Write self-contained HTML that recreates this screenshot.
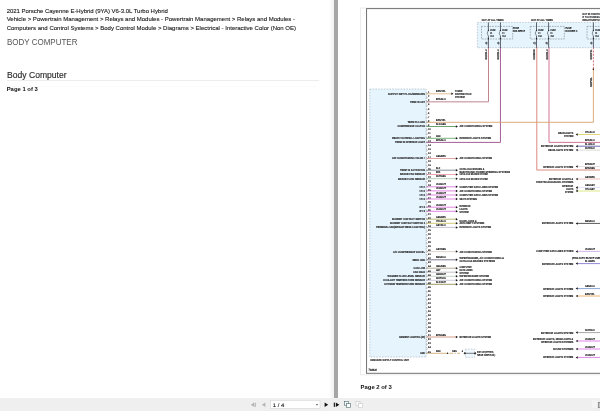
<!DOCTYPE html>
<html><head><meta charset="utf-8"><title>Body Computer</title>
<style>
html,body{margin:0;padding:0;}
body{width:600px;height:411px;overflow:hidden;background:#fff;position:relative;font-family:"Liberation Sans",sans-serif;}
.abs{position:absolute;white-space:nowrap;}
.t{opacity:0.999;}
#left{left:0;top:0;width:334px;height:398px;background:#fff;}
#shadow{left:329px;top:0;width:5px;height:398px;background:linear-gradient(to right,rgba(0,0,0,0),rgba(0,0,0,0.06));}
#gap{left:333.6px;top:0;width:4.1px;height:398px;background:#a6a6a6;}
#right{left:338px;top:0;width:262px;height:398px;background:#fff;}
#bar{left:0;top:397.5px;width:600px;height:13.5px;background:#efefef;}
.crumb{left:6.7px;font-size:6.0px;color:#1c1c1c;line-height:8.4px;-webkit-text-stroke:0.12px #1c1c1c;}
.h1{left:6.9px;top:37.1px;font-size:9.0px;color:#555;transform:scaleX(0.888);transform-origin:0 0;}
.h2{left:6.7px;top:70.0px;font-size:8.8px;color:#2b2b2b;-webkit-text-stroke:0.15px #2b2b2b;transform:scaleX(0.975);transform-origin:0 0;}
.rule{left:7px;top:80px;width:311.7px;height:1px;background:#eceeee;}
.rule2{left:7px;top:85.6px;width:310px;height:1px;background:#fafafa;}
.pg{font-size:5.9px;font-weight:bold;color:#111;}
svg text{font-family:"Liberation Sans",sans-serif;stroke:#1a1a1a;stroke-width:0.12px;text-rendering:geometricPrecision;}
</style></head><body>
<div id="left" class="abs"></div><div id="shadow" class="abs"></div><div id="gap" class="abs"></div><div id="right" class="abs"></div>
<div class="abs crumb t" style="top:6.8px;letter-spacing:-0.03px">2021 Porsche Cayenne E-Hybrid (9YA) V6-3.0L Turbo Hybrid</div>
<div class="abs crumb t" style="top:15.3px">Vehicle &gt; Powertrain Management &gt; Relays and Modules - Powertrain Management &gt; Relays and Modules -</div>
<div class="abs crumb t" style="top:23.9px">Computers and Control Systems &gt; Body Control Module &gt; Diagrams &gt; Electrical - Interactive Color (Non OE)</div>
<div class="abs h1 t">BODY COMPUTER</div>
<div class="abs h2 t">Body Computer</div>
<div class="abs rule"></div><div class="abs rule2"></div>
<div class="abs pg t" style="left:6.7px;top:85.6px">Page 1 of 3</div>
<div class="abs pg t" style="left:360.6px;top:384.2px">Page 2 of 3</div>
<svg class="abs" style="left:0;top:0" width="600" height="398" viewBox="0 0 600 398">
<defs><filter id="tb" x="-2%" y="-2%" width="104%" height="104%"><feGaussianBlur stdDeviation="0.18"/></filter><filter id="lb" x="-2%" y="-2%" width="104%" height="104%"><feGaussianBlur stdDeviation="0.12"/></filter></defs>
<rect x="360.5" y="8.0" width="245" height="366.8" fill="none" stroke="#ececec" stroke-width="1"/><rect x="366.55" y="8.6" width="240" height="364.7" fill="none" stroke="#727272" stroke-width="1"/>
<g filter="url(#lb)">
<rect x="477.4" y="22.4" width="130" height="25.3" fill="#e6f4fd" stroke="#8598a6" stroke-width="0.45" stroke-dasharray="1.6,1.2"/>
<rect x="481.5" y="26.4" width="31.200000000000045" height="12.6" fill="none" stroke="#5a6872" stroke-width="0.5" stroke-dasharray="1.6,1.1"/>
<rect x="530.3" y="26.4" width="34.0" height="12.6" fill="none" stroke="#5a6872" stroke-width="0.5" stroke-dasharray="1.6,1.1"/>
<rect x="587" y="26.4" width="23" height="12.6" fill="none" stroke="#5a6872" stroke-width="0.5" stroke-dasharray="1.6,1.1"/>
<rect x="369.8" y="89" width="56.3" height="268" fill="#e6f4fd" stroke="#8598a6" stroke-width="0.45" stroke-dasharray="1.6,1.2"/>
<path d="M426.5,101.85 H488.5 V47" stroke="#b87880" stroke-width="0.9" fill="none" />
<path d="M426.5,142.4 H500.45 V47" stroke="#9a4c8c" stroke-width="0.9" fill="none" />
<path d="M600,170 H536.8 V47" stroke="#d87c70" stroke-width="0.9" fill="none" />
<path d="M600,142.4 H549.0 V47" stroke="#cc6884" stroke-width="0.9" fill="none" />
<path d="M426.5,122.3 H593.4 V69" stroke="#d8a46c" stroke-width="0.9" fill="none" />
<line x1="593.40" y1="69.00" x2="593.40" y2="47.50" stroke="#d4606a" stroke-width="0.9" stroke-dasharray="2,1.3"/>
<line x1="488.40" y1="22.40" x2="488.40" y2="30.30" stroke="#3a3f4a" stroke-width="0.8" />
<line x1="488.40" y1="36.00" x2="488.40" y2="47.70" stroke="#3a3f4a" stroke-width="0.8" />
<path d="M488.4,30.3 q-2.4,2.9 0,5.8" stroke="#3a3f4a" stroke-width="0.6" fill="none" />
<line x1="500.45" y1="22.40" x2="500.45" y2="30.30" stroke="#3a3f4a" stroke-width="0.8" />
<line x1="500.45" y1="36.00" x2="500.45" y2="47.70" stroke="#3a3f4a" stroke-width="0.8" />
<path d="M500.45,30.3 q-2.4,2.9 0,5.8" stroke="#3a3f4a" stroke-width="0.6" fill="none" />
<line x1="536.50" y1="22.40" x2="536.50" y2="30.30" stroke="#3a3f4a" stroke-width="0.8" />
<line x1="536.50" y1="36.00" x2="536.50" y2="47.70" stroke="#3a3f4a" stroke-width="0.8" />
<path d="M536.5,30.3 q-2.4,2.9 0,5.8" stroke="#3a3f4a" stroke-width="0.6" fill="none" />
<line x1="548.60" y1="22.40" x2="548.60" y2="30.30" stroke="#3a3f4a" stroke-width="0.8" />
<line x1="548.60" y1="36.00" x2="548.60" y2="47.70" stroke="#3a3f4a" stroke-width="0.8" />
<path d="M548.6,30.3 q-2.4,2.9 0,5.8" stroke="#3a3f4a" stroke-width="0.6" fill="none" />
<line x1="593.40" y1="22.40" x2="593.40" y2="30.30" stroke="#3a3f4a" stroke-width="0.8" />
<line x1="593.40" y1="36.00" x2="593.40" y2="47.70" stroke="#3a3f4a" stroke-width="0.8" />
<path d="M593.4,30.3 q-2.4,2.9 0,5.8" stroke="#3a3f4a" stroke-width="0.6" fill="none" />
<line x1="426.50" y1="93.80" x2="451.80" y2="93.80" stroke="#dcae78" stroke-width="0.8" />
<line x1="426.50" y1="126.50" x2="456.40" y2="126.50" stroke="#4c8a50" stroke-width="0.8" />
<line x1="426.50" y1="138.30" x2="456.40" y2="138.30" stroke="#58a05c" stroke-width="0.8" />
<line x1="426.50" y1="158.50" x2="456.40" y2="158.50" stroke="#dc8c8c" stroke-width="0.8" />
<line x1="426.50" y1="170.20" x2="456.40" y2="170.20" stroke="#66767e" stroke-width="0.8" />
<line x1="426.50" y1="174.50" x2="456.40" y2="174.50" stroke="#e8929c" stroke-width="0.8" />
<line x1="426.50" y1="178.70" x2="456.40" y2="178.70" stroke="#a4c4ac" stroke-width="0.8" />
<line x1="426.50" y1="186.80" x2="456.40" y2="186.80" stroke="#d868d8" stroke-width="0.8" />
<line x1="426.50" y1="190.90" x2="456.40" y2="190.90" stroke="#d868d8" stroke-width="0.8" />
<line x1="426.50" y1="195.00" x2="456.40" y2="195.00" stroke="#d868d8" stroke-width="0.8" />
<line x1="426.50" y1="199.00" x2="456.40" y2="199.00" stroke="#d868d8" stroke-width="0.8" />
<line x1="426.50" y1="207.20" x2="456.40" y2="207.20" stroke="#d868d8" stroke-width="0.8" />
<line x1="426.50" y1="211.30" x2="456.40" y2="211.30" stroke="#d868d8" stroke-width="0.8" />
<line x1="426.50" y1="219.20" x2="456.40" y2="219.20" stroke="#a8a456" stroke-width="0.8" />
<line x1="426.50" y1="223.30" x2="456.40" y2="223.30" stroke="#c8bc54" stroke-width="0.8" />
<line x1="426.50" y1="227.40" x2="456.40" y2="227.40" stroke="#b8b4c8" stroke-width="0.8" />
<line x1="426.50" y1="251.60" x2="456.40" y2="251.60" stroke="#d2ccc4" stroke-width="0.8" />
<line x1="426.50" y1="259.80" x2="456.40" y2="259.80" stroke="#5a5a74" stroke-width="0.8" />
<line x1="426.50" y1="268.20" x2="456.40" y2="268.20" stroke="#a09a80" stroke-width="0.8" />
<line x1="426.50" y1="272.20" x2="456.40" y2="272.20" stroke="#b4b4b4" stroke-width="0.8" />
<line x1="426.50" y1="276.30" x2="456.40" y2="276.30" stroke="#bcc6be" stroke-width="0.8" />
<line x1="426.50" y1="280.30" x2="456.40" y2="280.30" stroke="#c4bcd0" stroke-width="0.8" />
<line x1="426.50" y1="284.30" x2="456.40" y2="284.30" stroke="#868644" stroke-width="0.8" />
<line x1="426.50" y1="337.00" x2="456.40" y2="337.00" stroke="#cc8068" stroke-width="0.8" />
<line x1="426.50" y1="353.30" x2="447.40" y2="353.30" stroke="#c8a468" stroke-width="0.8" />
<line x1="449.60" y1="353.30" x2="460.00" y2="353.30" stroke="#c8a468" stroke-width="0.8" stroke-dasharray="3.6,1.3,1.4,1.3"/>
<rect x="465.3" y="349" width="9.4" height="8.4" fill="#eef8fe" stroke="#8598a6" stroke-width="0.4" stroke-dasharray="1.6,1.2"/>
<line x1="465.50" y1="353.30" x2="475.00" y2="353.30" stroke="#39404c" stroke-width="0.7" />
<path d="M463.6,353.3 l1.25,-1.25 l1.25,1.25 l-1.25,1.25z" fill="#222"/>
<path d="M473.9,353.3 l1.25,-1.25 l1.25,1.25 l-1.25,1.25z" fill="#222"/>
<path d="M426.4,92.30 q1.5,1.1 0.2,2.3" stroke="#4a5560" stroke-width="0.45" fill="none" />
<path d="M426.4,96.35 q1.5,1.1 0.2,2.3" stroke="#4a5560" stroke-width="0.45" fill="none" />
<path d="M426.4,100.40 q1.5,1.1 0.2,2.3" stroke="#4a5560" stroke-width="0.45" fill="none" />
<path d="M426.4,104.45 q1.5,1.1 0.2,2.3" stroke="#4a5560" stroke-width="0.45" fill="none" />
<path d="M426.4,108.50 q1.5,1.1 0.2,2.3" stroke="#4a5560" stroke-width="0.45" fill="none" />
<path d="M426.4,112.55 q1.5,1.1 0.2,2.3" stroke="#4a5560" stroke-width="0.45" fill="none" />
<path d="M426.4,116.60 q1.5,1.1 0.2,2.3" stroke="#4a5560" stroke-width="0.45" fill="none" />
<path d="M426.4,120.65 q1.5,1.1 0.2,2.3" stroke="#4a5560" stroke-width="0.45" fill="none" />
<path d="M426.4,124.70 q1.5,1.1 0.2,2.3" stroke="#4a5560" stroke-width="0.45" fill="none" />
<path d="M426.4,128.75 q1.5,1.1 0.2,2.3" stroke="#4a5560" stroke-width="0.45" fill="none" />
<path d="M426.4,132.80 q1.5,1.1 0.2,2.3" stroke="#4a5560" stroke-width="0.45" fill="none" />
<path d="M426.4,136.85 q1.5,1.1 0.2,2.3" stroke="#4a5560" stroke-width="0.45" fill="none" />
<path d="M426.4,140.90 q1.5,1.1 0.2,2.3" stroke="#4a5560" stroke-width="0.45" fill="none" />
<path d="M426.4,144.95 q1.5,1.1 0.2,2.3" stroke="#4a5560" stroke-width="0.45" fill="none" />
<path d="M426.4,149.00 q1.5,1.1 0.2,2.3" stroke="#4a5560" stroke-width="0.45" fill="none" />
<path d="M426.4,153.05 q1.5,1.1 0.2,2.3" stroke="#4a5560" stroke-width="0.45" fill="none" />
<path d="M426.4,157.10 q1.5,1.1 0.2,2.3" stroke="#4a5560" stroke-width="0.45" fill="none" />
<path d="M426.4,161.15 q1.5,1.1 0.2,2.3" stroke="#4a5560" stroke-width="0.45" fill="none" />
<path d="M426.4,165.20 q1.5,1.1 0.2,2.3" stroke="#4a5560" stroke-width="0.45" fill="none" />
<path d="M426.4,169.25 q1.5,1.1 0.2,2.3" stroke="#4a5560" stroke-width="0.45" fill="none" />
<path d="M426.4,173.30 q1.5,1.1 0.2,2.3" stroke="#4a5560" stroke-width="0.45" fill="none" />
<path d="M426.4,177.35 q1.5,1.1 0.2,2.3" stroke="#4a5560" stroke-width="0.45" fill="none" />
<path d="M426.4,181.40 q1.5,1.1 0.2,2.3" stroke="#4a5560" stroke-width="0.45" fill="none" />
<path d="M426.4,185.45 q1.5,1.1 0.2,2.3" stroke="#4a5560" stroke-width="0.45" fill="none" />
<path d="M426.4,189.50 q1.5,1.1 0.2,2.3" stroke="#4a5560" stroke-width="0.45" fill="none" />
<path d="M426.4,193.55 q1.5,1.1 0.2,2.3" stroke="#4a5560" stroke-width="0.45" fill="none" />
<path d="M426.4,197.60 q1.5,1.1 0.2,2.3" stroke="#4a5560" stroke-width="0.45" fill="none" />
<path d="M426.4,201.65 q1.5,1.1 0.2,2.3" stroke="#4a5560" stroke-width="0.45" fill="none" />
<path d="M426.4,205.70 q1.5,1.1 0.2,2.3" stroke="#4a5560" stroke-width="0.45" fill="none" />
<path d="M426.4,209.75 q1.5,1.1 0.2,2.3" stroke="#4a5560" stroke-width="0.45" fill="none" />
<path d="M426.4,213.80 q1.5,1.1 0.2,2.3" stroke="#4a5560" stroke-width="0.45" fill="none" />
<path d="M426.4,217.85 q1.5,1.1 0.2,2.3" stroke="#4a5560" stroke-width="0.45" fill="none" />
<path d="M426.4,221.90 q1.5,1.1 0.2,2.3" stroke="#4a5560" stroke-width="0.45" fill="none" />
<path d="M426.4,225.95 q1.5,1.1 0.2,2.3" stroke="#4a5560" stroke-width="0.45" fill="none" />
<path d="M426.4,230.00 q1.5,1.1 0.2,2.3" stroke="#4a5560" stroke-width="0.45" fill="none" />
<path d="M426.4,234.05 q1.5,1.1 0.2,2.3" stroke="#4a5560" stroke-width="0.45" fill="none" />
<path d="M426.4,238.10 q1.5,1.1 0.2,2.3" stroke="#4a5560" stroke-width="0.45" fill="none" />
<path d="M426.4,242.15 q1.5,1.1 0.2,2.3" stroke="#4a5560" stroke-width="0.45" fill="none" />
<path d="M426.4,246.20 q1.5,1.1 0.2,2.3" stroke="#4a5560" stroke-width="0.45" fill="none" />
<path d="M426.4,250.25 q1.5,1.1 0.2,2.3" stroke="#4a5560" stroke-width="0.45" fill="none" />
<path d="M426.4,254.30 q1.5,1.1 0.2,2.3" stroke="#4a5560" stroke-width="0.45" fill="none" />
<path d="M426.4,258.35 q1.5,1.1 0.2,2.3" stroke="#4a5560" stroke-width="0.45" fill="none" />
<path d="M426.4,262.40 q1.5,1.1 0.2,2.3" stroke="#4a5560" stroke-width="0.45" fill="none" />
<path d="M426.4,266.45 q1.5,1.1 0.2,2.3" stroke="#4a5560" stroke-width="0.45" fill="none" />
<path d="M426.4,270.50 q1.5,1.1 0.2,2.3" stroke="#4a5560" stroke-width="0.45" fill="none" />
<path d="M426.4,274.55 q1.5,1.1 0.2,2.3" stroke="#4a5560" stroke-width="0.45" fill="none" />
<path d="M426.4,278.60 q1.5,1.1 0.2,2.3" stroke="#4a5560" stroke-width="0.45" fill="none" />
<path d="M426.4,282.65 q1.5,1.1 0.2,2.3" stroke="#4a5560" stroke-width="0.45" fill="none" />
<path d="M426.4,286.70 q1.5,1.1 0.2,2.3" stroke="#4a5560" stroke-width="0.45" fill="none" />
<path d="M426.4,290.75 q1.5,1.1 0.2,2.3" stroke="#4a5560" stroke-width="0.45" fill="none" />
<path d="M426.4,294.80 q1.5,1.1 0.2,2.3" stroke="#4a5560" stroke-width="0.45" fill="none" />
<path d="M426.4,298.85 q1.5,1.1 0.2,2.3" stroke="#4a5560" stroke-width="0.45" fill="none" />
<path d="M426.4,302.90 q1.5,1.1 0.2,2.3" stroke="#4a5560" stroke-width="0.45" fill="none" />
<path d="M426.4,306.95 q1.5,1.1 0.2,2.3" stroke="#4a5560" stroke-width="0.45" fill="none" />
<path d="M426.4,311.00 q1.5,1.1 0.2,2.3" stroke="#4a5560" stroke-width="0.45" fill="none" />
<path d="M426.4,315.05 q1.5,1.1 0.2,2.3" stroke="#4a5560" stroke-width="0.45" fill="none" />
<path d="M426.4,319.10 q1.5,1.1 0.2,2.3" stroke="#4a5560" stroke-width="0.45" fill="none" />
<path d="M426.4,323.15 q1.5,1.1 0.2,2.3" stroke="#4a5560" stroke-width="0.45" fill="none" />
<path d="M426.4,327.20 q1.5,1.1 0.2,2.3" stroke="#4a5560" stroke-width="0.45" fill="none" />
<path d="M426.4,331.25 q1.5,1.1 0.2,2.3" stroke="#4a5560" stroke-width="0.45" fill="none" />
<path d="M426.4,335.30 q1.5,1.1 0.2,2.3" stroke="#4a5560" stroke-width="0.45" fill="none" />
<path d="M426.4,339.35 q1.5,1.1 0.2,2.3" stroke="#4a5560" stroke-width="0.45" fill="none" />
<path d="M426.4,343.40 q1.5,1.1 0.2,2.3" stroke="#4a5560" stroke-width="0.45" fill="none" />
<path d="M426.4,347.45 q1.5,1.1 0.2,2.3" stroke="#4a5560" stroke-width="0.45" fill="none" />
<path d="M426.4,351.50 q1.5,1.1 0.2,2.3" stroke="#4a5560" stroke-width="0.45" fill="none" />
<line x1="577.20" y1="134.50" x2="600.00" y2="134.50" stroke="#d8cc58" stroke-width="0.8" />
<line x1="577.20" y1="146.20" x2="600.00" y2="146.20" stroke="#4848a0" stroke-width="0.8" />
<line x1="577.20" y1="150.10" x2="600.00" y2="150.10" stroke="#cfcfc8" stroke-width="0.8" />
<line x1="577.20" y1="166.60" x2="600.00" y2="166.60" stroke="#dccfcf" stroke-width="0.8" />
<line x1="577.20" y1="179.00" x2="600.00" y2="179.00" stroke="#e8b0b0" stroke-width="0.8" />
<line x1="577.20" y1="187.40" x2="600.00" y2="187.40" stroke="#d4d8ee" stroke-width="0.8" />
<line x1="577.20" y1="191.00" x2="600.00" y2="191.00" stroke="#d6e26c" stroke-width="0.8" />
<line x1="577.20" y1="223.40" x2="600.00" y2="223.40" stroke="#303030" stroke-width="0.8" />
<line x1="577.20" y1="251.40" x2="600.00" y2="251.40" stroke="#cca2de" stroke-width="0.8" />
<line x1="577.20" y1="263.60" x2="600.00" y2="263.60" stroke="#7468cc" stroke-width="0.8" />
<line x1="577.20" y1="288.60" x2="600.00" y2="288.60" stroke="#708cc8" stroke-width="0.8" />
<line x1="577.20" y1="296.00" x2="600.00" y2="296.00" stroke="#e6a050" stroke-width="0.8" />
<line x1="577.20" y1="332.60" x2="600.00" y2="332.60" stroke="#909090" stroke-width="0.8" />
<line x1="577.20" y1="341.00" x2="600.00" y2="341.00" stroke="#d468de" stroke-width="0.8" />
<line x1="577.20" y1="349.00" x2="600.00" y2="349.00" stroke="#d468de" stroke-width="0.8" />
<line x1="577.20" y1="357.40" x2="600.00" y2="357.40" stroke="#d468de" stroke-width="0.8" />
<line x1="577.00" y1="187.10" x2="577.00" y2="191.30" stroke="#444" stroke-width="0.5" />
</g>
<g filter="url(#tb)"><circle cx="593.40" cy="69.20" r="0.75" fill="#1a1a1a"/>
<circle cx="488.40" cy="30.30" r="0.65" fill="#1a1a1a"/>
<circle cx="488.40" cy="38.70" r="0.65" fill="#1a1a1a"/>
<circle cx="500.45" cy="30.30" r="0.65" fill="#1a1a1a"/>
<circle cx="500.45" cy="38.70" r="0.65" fill="#1a1a1a"/>
<circle cx="536.50" cy="30.30" r="0.65" fill="#1a1a1a"/>
<circle cx="536.50" cy="38.70" r="0.65" fill="#1a1a1a"/>
<circle cx="548.60" cy="30.30" r="0.65" fill="#1a1a1a"/>
<circle cx="548.60" cy="38.70" r="0.65" fill="#1a1a1a"/>
<circle cx="593.40" cy="30.30" r="0.65" fill="#1a1a1a"/>
<circle cx="593.40" cy="38.70" r="0.65" fill="#1a1a1a"/>
<path d="M453.40,93.80 l-2.0,-1.25 v2.5 z" fill="#111"/>
<path d="M457.90,126.50 l-2.0,-1.25 v2.5 z" fill="#111"/>
<path d="M457.90,138.30 l-2.0,-1.25 v2.5 z" fill="#111"/>
<path d="M457.90,158.50 l-2.0,-1.25 v2.5 z" fill="#111"/>
<path d="M457.90,170.20 l-2.0,-1.25 v2.5 z" fill="#111"/>
<path d="M457.90,174.50 l-2.0,-1.25 v2.5 z" fill="#111"/>
<path d="M457.90,178.70 l-2.0,-1.25 v2.5 z" fill="#111"/>
<path d="M457.90,186.80 l-2.0,-1.25 v2.5 z" fill="#111"/>
<path d="M457.90,190.90 l-2.0,-1.25 v2.5 z" fill="#111"/>
<path d="M457.90,195.00 l-2.0,-1.25 v2.5 z" fill="#111"/>
<path d="M457.90,199.00 l-2.0,-1.25 v2.5 z" fill="#111"/>
<path d="M457.90,227.40 l-2.0,-1.25 v2.5 z" fill="#111"/>
<path d="M457.90,251.60 l-2.0,-1.25 v2.5 z" fill="#111"/>
<path d="M457.90,259.80 l-2.0,-1.25 v2.5 z" fill="#111"/>
<path d="M457.90,276.30 l-2.0,-1.25 v2.5 z" fill="#111"/>
<path d="M457.90,280.30 l-2.0,-1.25 v2.5 z" fill="#111"/>
<path d="M457.90,284.30 l-2.0,-1.25 v2.5 z" fill="#111"/>
<path d="M457.90,337.00 l-2.0,-1.25 v2.5 z" fill="#111"/>
<path d="M457.90,207.20 l-2.0,-1.25 v2.5 z" fill="#111"/>
<path d="M457.90,211.30 l-2.0,-1.25 v2.5 z" fill="#111"/>
<path d="M457.90,219.20 l-2.0,-1.25 v2.5 z" fill="#111"/>
<path d="M457.90,223.30 l-2.0,-1.25 v2.5 z" fill="#111"/>
<path d="M457.90,268.20 l-2.0,-1.25 v2.5 z" fill="#111"/>
<path d="M457.90,272.20 l-2.0,-1.25 v2.5 z" fill="#111"/>
<circle cx="447.60" cy="353.30" r="0.75" fill="#1a1a1a"/>
<path d="M575.70,134.50 l2.0,-1.25 v2.5 z" fill="#111"/>
<path d="M575.70,146.20 l2.0,-1.25 v2.5 z" fill="#111"/>
<path d="M575.70,150.10 l2.0,-1.25 v2.5 z" fill="#111"/>
<path d="M575.70,166.60 l2.0,-1.25 v2.5 z" fill="#111"/>
<path d="M575.70,179.00 l2.0,-1.25 v2.5 z" fill="#111"/>
<path d="M575.70,223.40 l2.0,-1.25 v2.5 z" fill="#111"/>
<path d="M575.70,251.40 l2.0,-1.25 v2.5 z" fill="#111"/>
<path d="M575.70,263.60 l2.0,-1.25 v2.5 z" fill="#111"/>
<path d="M575.70,288.60 l2.0,-1.25 v2.5 z" fill="#111"/>
<path d="M575.70,296.00 l2.0,-1.25 v2.5 z" fill="#111"/>
<path d="M575.70,332.60 l2.0,-1.25 v2.5 z" fill="#111"/>
<path d="M575.70,341.00 l2.0,-1.25 v2.5 z" fill="#111"/>
<path d="M575.70,349.00 l2.0,-1.25 v2.5 z" fill="#111"/>
<path d="M575.70,357.40 l2.0,-1.25 v2.5 z" fill="#111"/>
<path d="M575.70,187.40 l2.0,-1.25 v2.5 z" fill="#111"/>
<path d="M575.70,191.00 l2.0,-1.25 v2.5 z" fill="#111"/></g>
<g filter="url(#tb)" font-weight="bold">
<text transform="translate(490.20,31.20)" font-size="2.67" text-anchor="start" textLength="5.40" lengthAdjust="spacingAndGlyphs" fill="#1a1a1a">FUSE</text>
<text transform="translate(490.20,34.10)" font-size="2.67" text-anchor="start" textLength="2.20" lengthAdjust="spacingAndGlyphs" fill="#1a1a1a">F1</text>
<text transform="translate(490.20,36.90)" font-size="2.67" text-anchor="start" textLength="3.60" lengthAdjust="spacingAndGlyphs" fill="#1a1a1a">15A</text>
<text transform="translate(485.20,44.10)" font-size="2.90" text-anchor="start" textLength="2.20" lengthAdjust="spacingAndGlyphs" fill="#1a1a1a">3)</text>
<text transform="translate(502.25,31.20)" font-size="2.67" text-anchor="start" textLength="5.40" lengthAdjust="spacingAndGlyphs" fill="#1a1a1a">FUSE</text>
<text transform="translate(502.25,34.10)" font-size="2.67" text-anchor="start" textLength="2.20" lengthAdjust="spacingAndGlyphs" fill="#1a1a1a">F1</text>
<text transform="translate(502.25,36.90)" font-size="2.67" text-anchor="start" textLength="3.60" lengthAdjust="spacingAndGlyphs" fill="#1a1a1a">15A</text>
<text transform="translate(497.25,44.10)" font-size="2.90" text-anchor="start" textLength="2.20" lengthAdjust="spacingAndGlyphs" fill="#1a1a1a">3)</text>
<text transform="translate(538.30,31.20)" font-size="2.67" text-anchor="start" textLength="5.40" lengthAdjust="spacingAndGlyphs" fill="#1a1a1a">FUSE</text>
<text transform="translate(538.30,34.10)" font-size="2.67" text-anchor="start" textLength="2.20" lengthAdjust="spacingAndGlyphs" fill="#1a1a1a">F1</text>
<text transform="translate(538.30,36.90)" font-size="2.67" text-anchor="start" textLength="3.60" lengthAdjust="spacingAndGlyphs" fill="#1a1a1a">15A</text>
<text transform="translate(533.30,44.10)" font-size="2.90" text-anchor="start" textLength="2.20" lengthAdjust="spacingAndGlyphs" fill="#1a1a1a">3)</text>
<text transform="translate(550.40,31.20)" font-size="2.67" text-anchor="start" textLength="5.40" lengthAdjust="spacingAndGlyphs" fill="#1a1a1a">FUSE</text>
<text transform="translate(550.40,34.10)" font-size="2.67" text-anchor="start" textLength="2.20" lengthAdjust="spacingAndGlyphs" fill="#1a1a1a">F1</text>
<text transform="translate(550.40,36.90)" font-size="2.67" text-anchor="start" textLength="3.60" lengthAdjust="spacingAndGlyphs" fill="#1a1a1a">15A</text>
<text transform="translate(545.40,44.10)" font-size="2.90" text-anchor="start" textLength="2.20" lengthAdjust="spacingAndGlyphs" fill="#1a1a1a">3)</text>
<text transform="translate(595.20,31.20)" font-size="2.67" text-anchor="start" textLength="5.40" lengthAdjust="spacingAndGlyphs" fill="#1a1a1a">FUSE</text>
<text transform="translate(595.20,34.10)" font-size="2.67" text-anchor="start" textLength="2.20" lengthAdjust="spacingAndGlyphs" fill="#1a1a1a">F1</text>
<text transform="translate(595.20,36.90)" font-size="2.67" text-anchor="start" textLength="3.60" lengthAdjust="spacingAndGlyphs" fill="#1a1a1a">15A</text>
<text transform="translate(590.20,44.10)" font-size="2.90" text-anchor="start" textLength="2.20" lengthAdjust="spacingAndGlyphs" fill="#1a1a1a">3)</text>
<text transform="translate(481.80,21.00)" font-size="2.90" text-anchor="start" textLength="21.70" lengthAdjust="spacingAndGlyphs" fill="#1a1a1a">HOT AT ALL TIMES</text>
<text transform="translate(531.20,21.00)" font-size="2.90" text-anchor="start" textLength="21.70" lengthAdjust="spacingAndGlyphs" fill="#1a1a1a">HOT AT ALL TIMES</text>
<text transform="translate(513.00,28.50)" font-size="2.78" text-anchor="start" textLength="6.00" lengthAdjust="spacingAndGlyphs" fill="#1a1a1a">FUSE</text>
<text transform="translate(513.00,31.50)" font-size="2.78" text-anchor="start" textLength="12.00" lengthAdjust="spacingAndGlyphs" fill="#1a1a1a">HOLDER E</text>
<text transform="translate(565.50,28.50)" font-size="2.78" text-anchor="start" textLength="6.00" lengthAdjust="spacingAndGlyphs" fill="#1a1a1a">FUSE</text>
<text transform="translate(565.50,31.50)" font-size="2.78" text-anchor="start" textLength="12.00" lengthAdjust="spacingAndGlyphs" fill="#1a1a1a">HOLDER C</text>
<text transform="translate(582.50,14.90)" font-size="2.90" text-anchor="start" textLength="20.00" lengthAdjust="spacingAndGlyphs" fill="#1a1a1a">HOT IN FUNCTION</text>
<text transform="translate(582.50,17.70)" font-size="2.90" text-anchor="start" textLength="22.00" lengthAdjust="spacingAndGlyphs" fill="#1a1a1a">R YOU FUSE BLOCK</text>
<text transform="translate(582.50,21.00)" font-size="2.90" text-anchor="start" textLength="21.00" lengthAdjust="spacingAndGlyphs" fill="#1a1a1a">RELAY/GRIPS INS</text>
<text transform="translate(486.90,59.40) rotate(-90)" font-size="2.67" text-anchor="start" textLength="10.00" lengthAdjust="spacingAndGlyphs" fill="#1a1a1a">RED/BLU</text>
<text transform="translate(498.95,59.40) rotate(-90)" font-size="2.67" text-anchor="start" textLength="10.00" lengthAdjust="spacingAndGlyphs" fill="#1a1a1a">RED/BLU</text>
<text transform="translate(535.30,59.40) rotate(-90)" font-size="2.67" text-anchor="start" textLength="10.00" lengthAdjust="spacingAndGlyphs" fill="#1a1a1a">RED/BRN</text>
<text transform="translate(547.50,59.40) rotate(-90)" font-size="2.67" text-anchor="start" textLength="10.00" lengthAdjust="spacingAndGlyphs" fill="#1a1a1a">RED/BLU</text>
<text transform="translate(591.90,59.40) rotate(-90)" font-size="2.67" text-anchor="start" textLength="10.00" lengthAdjust="spacingAndGlyphs" fill="#1a1a1a">RED/YEL</text>
<text transform="translate(591.90,87.00) rotate(-90)" font-size="2.67" text-anchor="start" textLength="10.00" lengthAdjust="spacingAndGlyphs" fill="#1a1a1a">RED/YEL</text>
<text transform="translate(425.00,94.70)" font-size="2.90" text-anchor="end" textLength="37.00" lengthAdjust="spacingAndGlyphs" fill="#1a1a1a">SUPPLY KEY PLUG/SENSORS</text>
<text transform="translate(436.00,92.30)" font-size="2.38" text-anchor="start" textLength="9.80" lengthAdjust="spacingAndGlyphs" fill="#1a1a1a">RED/YEL</text>
<text transform="translate(455.00,91.70)" font-size="2.90" text-anchor="start" textLength="7.30" lengthAdjust="spacingAndGlyphs" fill="#1a1a1a">POWER</text>
<text transform="translate(455.00,94.65)" font-size="2.90" text-anchor="start" textLength="16.30" lengthAdjust="spacingAndGlyphs" fill="#1a1a1a">DISTRIBUTION</text>
<text transform="translate(455.00,97.60)" font-size="2.90" text-anchor="start" textLength="9.60" lengthAdjust="spacingAndGlyphs" fill="#1a1a1a">SYSTEM</text>
<text transform="translate(425.00,102.60)" font-size="2.90" text-anchor="end" textLength="15.00" lengthAdjust="spacingAndGlyphs" fill="#1a1a1a">TERM 30 AKT</text>
<text transform="translate(436.00,100.20)" font-size="2.38" text-anchor="start" textLength="9.80" lengthAdjust="spacingAndGlyphs" fill="#1a1a1a">RED/BLU</text>
<text transform="translate(425.00,123.30)" font-size="2.90" text-anchor="end" textLength="17.60" lengthAdjust="spacingAndGlyphs" fill="#1a1a1a">TERM 15 LOAD</text>
<text transform="translate(436.00,120.90)" font-size="2.38" text-anchor="start" textLength="9.80" lengthAdjust="spacingAndGlyphs" fill="#1a1a1a">RED/YEL</text>
<text transform="translate(425.00,127.40)" font-size="2.90" text-anchor="end" textLength="27.60" lengthAdjust="spacingAndGlyphs" fill="#1a1a1a">COMPRESSOR CLUTCH</text>
<text transform="translate(436.00,125.00)" font-size="2.38" text-anchor="start" textLength="9.80" lengthAdjust="spacingAndGlyphs" fill="#1a1a1a">BLK/GRN</text>
<text transform="translate(459.40,127.40)" font-size="2.90" text-anchor="start" textLength="32.90" lengthAdjust="spacingAndGlyphs" fill="#1a1a1a">AIR CONDITIONING SYSTEM</text>
<text transform="translate(425.00,139.20)" font-size="2.90" text-anchor="end" textLength="33.00" lengthAdjust="spacingAndGlyphs" fill="#1a1a1a">REAR FOOTWELL LIGHTING</text>
<text transform="translate(436.00,136.80)" font-size="2.38" text-anchor="start" textLength="4.35" lengthAdjust="spacingAndGlyphs" fill="#1a1a1a">GRN</text>
<text transform="translate(459.40,139.20)" font-size="2.90" text-anchor="start" textLength="31.60" lengthAdjust="spacingAndGlyphs" fill="#1a1a1a">INTERIOR LIGHTS SYSTEM</text>
<text transform="translate(425.00,143.30)" font-size="2.90" text-anchor="end" textLength="30.00" lengthAdjust="spacingAndGlyphs" fill="#1a1a1a">TERM 30 INTERIOR LIGHT</text>
<text transform="translate(436.00,140.90)" font-size="2.38" text-anchor="start" textLength="9.80" lengthAdjust="spacingAndGlyphs" fill="#1a1a1a">RED/BLU</text>
<text transform="translate(425.00,159.40)" font-size="2.90" text-anchor="end" textLength="33.00" lengthAdjust="spacingAndGlyphs" fill="#1a1a1a">AIR CONDITIONING VALVE +</text>
<text transform="translate(436.00,157.00)" font-size="2.38" text-anchor="start" textLength="9.80" lengthAdjust="spacingAndGlyphs" fill="#1a1a1a">GRN/RED</text>
<text transform="translate(459.40,159.40)" font-size="2.90" text-anchor="start" textLength="32.60" lengthAdjust="spacingAndGlyphs" fill="#1a1a1a">AIR CONDITIONING SYSTEM</text>
<text transform="translate(425.00,171.10)" font-size="2.90" text-anchor="end" textLength="25.00" lengthAdjust="spacingAndGlyphs" fill="#1a1a1a">TERM 15 ACTIVATION</text>
<text transform="translate(436.00,168.70)" font-size="2.38" text-anchor="start" textLength="4.35" lengthAdjust="spacingAndGlyphs" fill="#1a1a1a">BLK</text>
<text transform="translate(459.40,169.60)" font-size="2.90" text-anchor="start" textLength="25.00" lengthAdjust="spacingAndGlyphs" fill="#1a1a1a">CATALOGS BRAKES &amp;</text>
<text transform="translate(459.40,172.60)" font-size="2.90" text-anchor="start" textLength="50.60" lengthAdjust="spacingAndGlyphs" fill="#1a1a1a">ELECTRONIC POWER STEERING SYSTEMS</text>
<text transform="translate(425.00,175.40)" font-size="2.90" text-anchor="end" textLength="25.00" lengthAdjust="spacingAndGlyphs" fill="#1a1a1a">BRAKE PAD SENSOR</text>
<text transform="translate(436.00,173.00)" font-size="2.38" text-anchor="start" textLength="4.35" lengthAdjust="spacingAndGlyphs" fill="#1a1a1a">RED</text>
<text transform="translate(459.40,175.40)" font-size="2.90" text-anchor="start" textLength="28.20" lengthAdjust="spacingAndGlyphs" fill="#1a1a1a">CATALOGS BRAKES SYSTEM</text>
<text transform="translate(425.00,179.60)" font-size="2.90" text-anchor="end" textLength="27.00" lengthAdjust="spacingAndGlyphs" fill="#1a1a1a">BRAKE FLUID SENSOR</text>
<text transform="translate(436.00,177.20)" font-size="2.38" text-anchor="start" textLength="9.80" lengthAdjust="spacingAndGlyphs" fill="#1a1a1a">WHT/GRN</text>
<text transform="translate(459.40,179.60)" font-size="2.90" text-anchor="start" textLength="28.20" lengthAdjust="spacingAndGlyphs" fill="#1a1a1a">CATALOGS BRAKES SYSTEM</text>
<text transform="translate(425.00,187.70)" font-size="2.90" text-anchor="end" textLength="5.40" lengthAdjust="spacingAndGlyphs" fill="#1a1a1a">UPC 1</text>
<text transform="translate(436.00,185.30)" font-size="2.38" text-anchor="start" textLength="9.80" lengthAdjust="spacingAndGlyphs" fill="#1a1a1a">VIO/WHT</text>
<text transform="translate(459.40,187.70)" font-size="2.90" text-anchor="start" textLength="38.60" lengthAdjust="spacingAndGlyphs" fill="#1a1a1a">COMPUTER DATA LINES SYSTEM</text>
<text transform="translate(425.00,191.80)" font-size="2.90" text-anchor="end" textLength="5.40" lengthAdjust="spacingAndGlyphs" fill="#1a1a1a">UPC 2</text>
<text transform="translate(436.00,189.40)" font-size="2.38" text-anchor="start" textLength="9.80" lengthAdjust="spacingAndGlyphs" fill="#1a1a1a">VIO/WHT</text>
<text transform="translate(459.40,191.80)" font-size="2.90" text-anchor="start" textLength="32.60" lengthAdjust="spacingAndGlyphs" fill="#1a1a1a">AIR CONDITIONING SYSTEM</text>
<text transform="translate(425.00,195.90)" font-size="2.90" text-anchor="end" textLength="5.40" lengthAdjust="spacingAndGlyphs" fill="#1a1a1a">UPC 3</text>
<text transform="translate(436.00,193.50)" font-size="2.38" text-anchor="start" textLength="9.80" lengthAdjust="spacingAndGlyphs" fill="#1a1a1a">VIO/WHT</text>
<text transform="translate(459.40,195.90)" font-size="2.90" text-anchor="start" textLength="38.60" lengthAdjust="spacingAndGlyphs" fill="#1a1a1a">COMPUTER DATA LINES SYSTEM</text>
<text transform="translate(425.00,199.90)" font-size="2.90" text-anchor="end" textLength="5.40" lengthAdjust="spacingAndGlyphs" fill="#1a1a1a">UPC 4</text>
<text transform="translate(436.00,197.50)" font-size="2.38" text-anchor="start" textLength="9.80" lengthAdjust="spacingAndGlyphs" fill="#1a1a1a">VIO/WHT</text>
<text transform="translate(459.40,199.90)" font-size="2.90" text-anchor="start" textLength="17.60" lengthAdjust="spacingAndGlyphs" fill="#1a1a1a">SEATS SYSTEMS</text>
<text transform="translate(425.00,208.10)" font-size="2.90" text-anchor="end" textLength="5.80" lengthAdjust="spacingAndGlyphs" fill="#1a1a1a">UPC 5</text>
<text transform="translate(436.00,205.70)" font-size="2.38" text-anchor="start" textLength="9.80" lengthAdjust="spacingAndGlyphs" fill="#1a1a1a">VIO/WHT</text>
<text transform="translate(425.00,212.20)" font-size="2.90" text-anchor="end" textLength="5.80" lengthAdjust="spacingAndGlyphs" fill="#1a1a1a">UPC 6</text>
<text transform="translate(436.00,209.80)" font-size="2.38" text-anchor="start" textLength="9.80" lengthAdjust="spacingAndGlyphs" fill="#1a1a1a">VIO/WHT</text>
<text transform="translate(425.00,220.10)" font-size="2.90" text-anchor="end" textLength="33.00" lengthAdjust="spacingAndGlyphs" fill="#1a1a1a">BONNET CONTACT SWITCH</text>
<text transform="translate(436.00,217.70)" font-size="2.38" text-anchor="start" textLength="9.80" lengthAdjust="spacingAndGlyphs" fill="#1a1a1a">GRN/RED</text>
<text transform="translate(425.00,224.20)" font-size="2.90" text-anchor="end" textLength="35.00" lengthAdjust="spacingAndGlyphs" fill="#1a1a1a">BONNET CONTACT SWITCH 2</text>
<text transform="translate(436.00,221.80)" font-size="2.38" text-anchor="start" textLength="9.80" lengthAdjust="spacingAndGlyphs" fill="#1a1a1a">YEL/BLU</text>
<text transform="translate(425.00,228.30)" font-size="2.90" text-anchor="end" textLength="49.00" lengthAdjust="spacingAndGlyphs" fill="#1a1a1a">TERMINAL 58D(BRIGHTNESS LIGHTING)</text>
<text transform="translate(436.00,225.90)" font-size="2.38" text-anchor="start" textLength="9.80" lengthAdjust="spacingAndGlyphs" fill="#1a1a1a">GRY/BLU</text>
<text transform="translate(459.40,228.30)" font-size="2.90" text-anchor="start" textLength="31.60" lengthAdjust="spacingAndGlyphs" fill="#1a1a1a">INTERIOR LIGHTS SYSTEM</text>
<text transform="translate(425.00,252.50)" font-size="2.90" text-anchor="end" textLength="32.00" lengthAdjust="spacingAndGlyphs" fill="#1a1a1a">A/C COMPRESSOR VALVE -</text>
<text transform="translate(436.00,250.10)" font-size="2.38" text-anchor="start" textLength="9.80" lengthAdjust="spacingAndGlyphs" fill="#1a1a1a">GRY/BRN</text>
<text transform="translate(459.40,252.50)" font-size="2.90" text-anchor="start" textLength="32.40" lengthAdjust="spacingAndGlyphs" fill="#1a1a1a">AIR CONDITIONING SYSTEM</text>
<text transform="translate(425.00,260.70)" font-size="2.90" text-anchor="end" textLength="12.60" lengthAdjust="spacingAndGlyphs" fill="#1a1a1a">SENS GND</text>
<text transform="translate(436.00,258.30)" font-size="2.38" text-anchor="start" textLength="9.80" lengthAdjust="spacingAndGlyphs" fill="#1a1a1a">BRN/BLU</text>
<text transform="translate(459.40,259.20)" font-size="2.90" text-anchor="start" textLength="44.60" lengthAdjust="spacingAndGlyphs" fill="#1a1a1a">WIPER/WASHER, A/C CONDITIONING &amp;</text>
<text transform="translate(459.40,262.20)" font-size="2.90" text-anchor="start" textLength="35.60" lengthAdjust="spacingAndGlyphs" fill="#1a1a1a">CATALOGS BRAKES SYSTEMS</text>
<text transform="translate(425.00,269.10)" font-size="2.90" text-anchor="end" textLength="11.40" lengthAdjust="spacingAndGlyphs" fill="#1a1a1a">CAN LOW</text>
<text transform="translate(436.00,266.70)" font-size="2.38" text-anchor="start" textLength="9.80" lengthAdjust="spacingAndGlyphs" fill="#1a1a1a">ORG/BRN</text>
<text transform="translate(425.00,273.10)" font-size="2.90" text-anchor="end" textLength="12.00" lengthAdjust="spacingAndGlyphs" fill="#1a1a1a">CAN HIGH</text>
<text transform="translate(436.00,270.70)" font-size="2.38" text-anchor="start" textLength="4.35" lengthAdjust="spacingAndGlyphs" fill="#1a1a1a">GRY</text>
<text transform="translate(425.00,277.20)" font-size="2.90" text-anchor="end" textLength="37.40" lengthAdjust="spacingAndGlyphs" fill="#1a1a1a">WASHER FLUID LEVEL SENSOR</text>
<text transform="translate(436.00,274.80)" font-size="2.38" text-anchor="start" textLength="9.80" lengthAdjust="spacingAndGlyphs" fill="#1a1a1a">GRN/WHT</text>
<text transform="translate(459.40,277.20)" font-size="2.90" text-anchor="start" textLength="29.60" lengthAdjust="spacingAndGlyphs" fill="#1a1a1a">WIPER/WASHER SYSTEM</text>
<text transform="translate(425.00,281.20)" font-size="2.90" text-anchor="end" textLength="42.00" lengthAdjust="spacingAndGlyphs" fill="#1a1a1a">COOLANT TEMPERATURE SENSOR</text>
<text transform="translate(436.00,278.80)" font-size="2.38" text-anchor="start" textLength="9.80" lengthAdjust="spacingAndGlyphs" fill="#1a1a1a">WHT/VIO</text>
<text transform="translate(459.40,281.20)" font-size="2.90" text-anchor="start" textLength="32.60" lengthAdjust="spacingAndGlyphs" fill="#1a1a1a">AIR CONDITIONING SYSTEM</text>
<text transform="translate(425.00,285.20)" font-size="2.90" text-anchor="end" textLength="41.00" lengthAdjust="spacingAndGlyphs" fill="#1a1a1a">OUTSIDE TEMPERATURE SENSOR</text>
<text transform="translate(436.00,282.80)" font-size="2.38" text-anchor="start" textLength="9.80" lengthAdjust="spacingAndGlyphs" fill="#1a1a1a">BLK/WHT</text>
<text transform="translate(459.40,285.20)" font-size="2.90" text-anchor="start" textLength="32.60" lengthAdjust="spacingAndGlyphs" fill="#1a1a1a">AIR CONDITIONING SYSTEM</text>
<text transform="translate(425.00,337.90)" font-size="2.90" text-anchor="end" textLength="26.00" lengthAdjust="spacingAndGlyphs" fill="#1a1a1a">AMBIENT LIGHTING (30)</text>
<text transform="translate(436.00,335.50)" font-size="2.38" text-anchor="start" textLength="9.80" lengthAdjust="spacingAndGlyphs" fill="#1a1a1a">RED/GRN</text>
<text transform="translate(459.40,337.90)" font-size="2.90" text-anchor="start" textLength="31.60" lengthAdjust="spacingAndGlyphs" fill="#1a1a1a">EXTERIOR LIGHTS SYSTEM</text>
<text transform="translate(425.00,354.20)" font-size="2.90" text-anchor="end" textLength="5.00" lengthAdjust="spacingAndGlyphs" fill="#1a1a1a">GND</text>
<text transform="translate(459.40,206.90)" font-size="2.90" text-anchor="start" textLength="11.10" lengthAdjust="spacingAndGlyphs" fill="#1a1a1a">INTERIOR</text>
<text transform="translate(459.40,210.00)" font-size="2.90" text-anchor="start" textLength="8.10" lengthAdjust="spacingAndGlyphs" fill="#1a1a1a">LIGHTS</text>
<text transform="translate(459.40,213.10)" font-size="2.90" text-anchor="start" textLength="9.10" lengthAdjust="spacingAndGlyphs" fill="#1a1a1a">SYSTEM</text>
<text transform="translate(459.40,221.50)" font-size="2.90" text-anchor="start" textLength="17.10" lengthAdjust="spacingAndGlyphs" fill="#1a1a1a">DOOR LOCKS &amp;</text>
<text transform="translate(459.40,224.40)" font-size="2.90" text-anchor="start" textLength="25.00" lengthAdjust="spacingAndGlyphs" fill="#1a1a1a">ANTI-THEFT SYSTEMS</text>
<text transform="translate(459.40,267.50)" font-size="2.90" text-anchor="start" textLength="12.10" lengthAdjust="spacingAndGlyphs" fill="#1a1a1a">COMPUTER</text>
<text transform="translate(459.40,270.70)" font-size="2.90" text-anchor="start" textLength="13.10" lengthAdjust="spacingAndGlyphs" fill="#1a1a1a">DATA LINES</text>
<text transform="translate(459.40,273.90)" font-size="2.90" text-anchor="start" textLength="9.10" lengthAdjust="spacingAndGlyphs" fill="#1a1a1a">SYSTEM</text>
<text transform="translate(436.00,351.50)" font-size="2.38" text-anchor="start" textLength="4.40" lengthAdjust="spacingAndGlyphs" fill="#1a1a1a">BRN</text>
<text transform="translate(452.30,351.50)" font-size="2.38" text-anchor="start" textLength="4.40" lengthAdjust="spacingAndGlyphs" fill="#1a1a1a">BRN</text>
<text transform="translate(461.80,351.80)" font-size="2.38" text-anchor="start" textLength="1.20" lengthAdjust="spacingAndGlyphs" fill="#1a1a1a">4</text>
<text transform="translate(477.30,352.90)" font-size="2.78" text-anchor="start" textLength="16.20" lengthAdjust="spacingAndGlyphs" fill="#1a1a1a">BODY GND (LEFT REAR,</text>
<text transform="translate(477.30,355.70)" font-size="2.78" text-anchor="start" textLength="18.00" lengthAdjust="spacingAndGlyphs" fill="#1a1a1a">NEAR SIDE RAIL)</text>
<text transform="translate(428.10,93.30)" font-size="2.55" text-anchor="start" textLength="1.30" lengthAdjust="spacingAndGlyphs" fill="#1a1a1a">1</text>
<text transform="translate(428.10,97.35)" font-size="2.55" text-anchor="start" textLength="1.30" lengthAdjust="spacingAndGlyphs" fill="#1a1a1a">2</text>
<text transform="translate(428.10,101.40)" font-size="2.55" text-anchor="start" textLength="1.30" lengthAdjust="spacingAndGlyphs" fill="#1a1a1a">3</text>
<text transform="translate(428.10,105.45)" font-size="2.55" text-anchor="start" textLength="1.30" lengthAdjust="spacingAndGlyphs" fill="#1a1a1a">4</text>
<text transform="translate(428.10,109.50)" font-size="2.55" text-anchor="start" textLength="1.30" lengthAdjust="spacingAndGlyphs" fill="#1a1a1a">5</text>
<text transform="translate(428.10,113.55)" font-size="2.55" text-anchor="start" textLength="1.30" lengthAdjust="spacingAndGlyphs" fill="#1a1a1a">6</text>
<text transform="translate(428.10,117.60)" font-size="2.55" text-anchor="start" textLength="1.30" lengthAdjust="spacingAndGlyphs" fill="#1a1a1a">7</text>
<text transform="translate(428.10,121.65)" font-size="2.55" text-anchor="start" textLength="1.30" lengthAdjust="spacingAndGlyphs" fill="#1a1a1a">8</text>
<text transform="translate(428.10,125.70)" font-size="2.55" text-anchor="start" textLength="1.30" lengthAdjust="spacingAndGlyphs" fill="#1a1a1a">9</text>
<text transform="translate(428.10,129.75)" font-size="2.55" text-anchor="start" textLength="2.60" lengthAdjust="spacingAndGlyphs" fill="#1a1a1a">10</text>
<text transform="translate(428.10,133.80)" font-size="2.55" text-anchor="start" textLength="2.60" lengthAdjust="spacingAndGlyphs" fill="#1a1a1a">11</text>
<text transform="translate(428.10,137.85)" font-size="2.55" text-anchor="start" textLength="2.60" lengthAdjust="spacingAndGlyphs" fill="#1a1a1a">12</text>
<text transform="translate(428.10,141.90)" font-size="2.55" text-anchor="start" textLength="2.60" lengthAdjust="spacingAndGlyphs" fill="#1a1a1a">13</text>
<text transform="translate(428.10,145.95)" font-size="2.55" text-anchor="start" textLength="2.60" lengthAdjust="spacingAndGlyphs" fill="#1a1a1a">14</text>
<text transform="translate(428.10,150.00)" font-size="2.55" text-anchor="start" textLength="2.60" lengthAdjust="spacingAndGlyphs" fill="#1a1a1a">15</text>
<text transform="translate(428.10,154.05)" font-size="2.55" text-anchor="start" textLength="2.60" lengthAdjust="spacingAndGlyphs" fill="#1a1a1a">16</text>
<text transform="translate(428.10,158.10)" font-size="2.55" text-anchor="start" textLength="2.60" lengthAdjust="spacingAndGlyphs" fill="#1a1a1a">17</text>
<text transform="translate(428.10,162.15)" font-size="2.55" text-anchor="start" textLength="2.60" lengthAdjust="spacingAndGlyphs" fill="#1a1a1a">18</text>
<text transform="translate(428.10,166.20)" font-size="2.55" text-anchor="start" textLength="2.60" lengthAdjust="spacingAndGlyphs" fill="#1a1a1a">19</text>
<text transform="translate(428.10,170.25)" font-size="2.55" text-anchor="start" textLength="2.60" lengthAdjust="spacingAndGlyphs" fill="#1a1a1a">20</text>
<text transform="translate(428.10,174.30)" font-size="2.55" text-anchor="start" textLength="2.60" lengthAdjust="spacingAndGlyphs" fill="#1a1a1a">21</text>
<text transform="translate(428.10,178.35)" font-size="2.55" text-anchor="start" textLength="2.60" lengthAdjust="spacingAndGlyphs" fill="#1a1a1a">22</text>
<text transform="translate(428.10,182.40)" font-size="2.55" text-anchor="start" textLength="2.60" lengthAdjust="spacingAndGlyphs" fill="#1a1a1a">23</text>
<text transform="translate(428.10,186.45)" font-size="2.55" text-anchor="start" textLength="2.60" lengthAdjust="spacingAndGlyphs" fill="#1a1a1a">24</text>
<text transform="translate(428.10,190.50)" font-size="2.55" text-anchor="start" textLength="2.60" lengthAdjust="spacingAndGlyphs" fill="#1a1a1a">25</text>
<text transform="translate(428.10,194.55)" font-size="2.55" text-anchor="start" textLength="2.60" lengthAdjust="spacingAndGlyphs" fill="#1a1a1a">26</text>
<text transform="translate(428.10,198.60)" font-size="2.55" text-anchor="start" textLength="2.60" lengthAdjust="spacingAndGlyphs" fill="#1a1a1a">27</text>
<text transform="translate(428.10,202.65)" font-size="2.55" text-anchor="start" textLength="2.60" lengthAdjust="spacingAndGlyphs" fill="#1a1a1a">28</text>
<text transform="translate(428.10,206.70)" font-size="2.55" text-anchor="start" textLength="2.60" lengthAdjust="spacingAndGlyphs" fill="#1a1a1a">29</text>
<text transform="translate(428.10,210.75)" font-size="2.55" text-anchor="start" textLength="2.60" lengthAdjust="spacingAndGlyphs" fill="#1a1a1a">30</text>
<text transform="translate(428.10,214.80)" font-size="2.55" text-anchor="start" textLength="2.60" lengthAdjust="spacingAndGlyphs" fill="#1a1a1a">31</text>
<text transform="translate(428.10,218.85)" font-size="2.55" text-anchor="start" textLength="2.60" lengthAdjust="spacingAndGlyphs" fill="#1a1a1a">32</text>
<text transform="translate(428.10,222.90)" font-size="2.55" text-anchor="start" textLength="2.60" lengthAdjust="spacingAndGlyphs" fill="#1a1a1a">33</text>
<text transform="translate(428.10,226.95)" font-size="2.55" text-anchor="start" textLength="2.60" lengthAdjust="spacingAndGlyphs" fill="#1a1a1a">34</text>
<text transform="translate(428.10,231.00)" font-size="2.55" text-anchor="start" textLength="2.60" lengthAdjust="spacingAndGlyphs" fill="#1a1a1a">35</text>
<text transform="translate(428.10,235.05)" font-size="2.55" text-anchor="start" textLength="2.60" lengthAdjust="spacingAndGlyphs" fill="#1a1a1a">36</text>
<text transform="translate(428.10,239.10)" font-size="2.55" text-anchor="start" textLength="2.60" lengthAdjust="spacingAndGlyphs" fill="#1a1a1a">37</text>
<text transform="translate(428.10,243.15)" font-size="2.55" text-anchor="start" textLength="2.60" lengthAdjust="spacingAndGlyphs" fill="#1a1a1a">38</text>
<text transform="translate(428.10,247.20)" font-size="2.55" text-anchor="start" textLength="2.60" lengthAdjust="spacingAndGlyphs" fill="#1a1a1a">39</text>
<text transform="translate(428.10,251.25)" font-size="2.55" text-anchor="start" textLength="2.60" lengthAdjust="spacingAndGlyphs" fill="#1a1a1a">40</text>
<text transform="translate(428.10,255.30)" font-size="2.55" text-anchor="start" textLength="2.60" lengthAdjust="spacingAndGlyphs" fill="#1a1a1a">41</text>
<text transform="translate(428.10,259.35)" font-size="2.55" text-anchor="start" textLength="2.60" lengthAdjust="spacingAndGlyphs" fill="#1a1a1a">42</text>
<text transform="translate(428.10,263.40)" font-size="2.55" text-anchor="start" textLength="2.60" lengthAdjust="spacingAndGlyphs" fill="#1a1a1a">43</text>
<text transform="translate(428.10,267.45)" font-size="2.55" text-anchor="start" textLength="2.60" lengthAdjust="spacingAndGlyphs" fill="#1a1a1a">44</text>
<text transform="translate(428.10,271.50)" font-size="2.55" text-anchor="start" textLength="2.60" lengthAdjust="spacingAndGlyphs" fill="#1a1a1a">45</text>
<text transform="translate(428.10,275.55)" font-size="2.55" text-anchor="start" textLength="2.60" lengthAdjust="spacingAndGlyphs" fill="#1a1a1a">46</text>
<text transform="translate(428.10,279.60)" font-size="2.55" text-anchor="start" textLength="2.60" lengthAdjust="spacingAndGlyphs" fill="#1a1a1a">47</text>
<text transform="translate(428.10,283.65)" font-size="2.55" text-anchor="start" textLength="2.60" lengthAdjust="spacingAndGlyphs" fill="#1a1a1a">48</text>
<text transform="translate(428.10,287.70)" font-size="2.55" text-anchor="start" textLength="2.60" lengthAdjust="spacingAndGlyphs" fill="#1a1a1a">49</text>
<text transform="translate(428.10,291.75)" font-size="2.55" text-anchor="start" textLength="2.60" lengthAdjust="spacingAndGlyphs" fill="#1a1a1a">50</text>
<text transform="translate(428.10,295.80)" font-size="2.55" text-anchor="start" textLength="2.60" lengthAdjust="spacingAndGlyphs" fill="#1a1a1a">51</text>
<text transform="translate(428.10,299.85)" font-size="2.55" text-anchor="start" textLength="2.60" lengthAdjust="spacingAndGlyphs" fill="#1a1a1a">52</text>
<text transform="translate(428.10,303.90)" font-size="2.55" text-anchor="start" textLength="2.60" lengthAdjust="spacingAndGlyphs" fill="#1a1a1a">53</text>
<text transform="translate(428.10,307.95)" font-size="2.55" text-anchor="start" textLength="2.60" lengthAdjust="spacingAndGlyphs" fill="#1a1a1a">54</text>
<text transform="translate(428.10,312.00)" font-size="2.55" text-anchor="start" textLength="2.60" lengthAdjust="spacingAndGlyphs" fill="#1a1a1a">55</text>
<text transform="translate(428.10,316.05)" font-size="2.55" text-anchor="start" textLength="2.60" lengthAdjust="spacingAndGlyphs" fill="#1a1a1a">56</text>
<text transform="translate(428.10,320.10)" font-size="2.55" text-anchor="start" textLength="2.60" lengthAdjust="spacingAndGlyphs" fill="#1a1a1a">57</text>
<text transform="translate(428.10,324.15)" font-size="2.55" text-anchor="start" textLength="2.60" lengthAdjust="spacingAndGlyphs" fill="#1a1a1a">58</text>
<text transform="translate(428.10,328.20)" font-size="2.55" text-anchor="start" textLength="2.60" lengthAdjust="spacingAndGlyphs" fill="#1a1a1a">59</text>
<text transform="translate(428.10,332.25)" font-size="2.55" text-anchor="start" textLength="2.60" lengthAdjust="spacingAndGlyphs" fill="#1a1a1a">60</text>
<text transform="translate(428.10,336.30)" font-size="2.55" text-anchor="start" textLength="2.60" lengthAdjust="spacingAndGlyphs" fill="#1a1a1a">61</text>
<text transform="translate(428.10,340.35)" font-size="2.55" text-anchor="start" textLength="2.60" lengthAdjust="spacingAndGlyphs" fill="#1a1a1a">62</text>
<text transform="translate(428.10,344.40)" font-size="2.55" text-anchor="start" textLength="2.60" lengthAdjust="spacingAndGlyphs" fill="#1a1a1a">63</text>
<text transform="translate(428.10,348.45)" font-size="2.55" text-anchor="start" textLength="2.60" lengthAdjust="spacingAndGlyphs" fill="#1a1a1a">64</text>
<text transform="translate(428.10,352.50)" font-size="2.55" text-anchor="start" textLength="2.60" lengthAdjust="spacingAndGlyphs" fill="#1a1a1a">65</text>
<text transform="translate(370.00,360.60)" font-size="2.90" text-anchor="start" textLength="39.00" lengthAdjust="spacingAndGlyphs" fill="#1a1a1a">ONBOARD SUPPLY CONTROL UNIT</text>
<text transform="translate(368.60,371.40)" font-size="3.13" text-anchor="start" textLength="8.40" lengthAdjust="spacingAndGlyphs" fill="#1a1a1a">786820</text>
<text transform="translate(585.00,133.00)" font-size="2.38" text-anchor="start" textLength="9.80" lengthAdjust="spacingAndGlyphs" fill="#1a1a1a">YEL/BLK</text>
<text transform="translate(573.30,134.20)" font-size="2.90" text-anchor="end" textLength="15.30" lengthAdjust="spacingAndGlyphs" fill="#1a1a1a">HEADLIGHTS</text>
<text transform="translate(573.30,137.20)" font-size="2.90" text-anchor="end" textLength="9.30" lengthAdjust="spacingAndGlyphs" fill="#1a1a1a">SYSTEM</text>
<text transform="translate(585.00,144.70)" font-size="2.38" text-anchor="start" textLength="9.80" lengthAdjust="spacingAndGlyphs" fill="#1a1a1a">BLU/BLK</text>
<text transform="translate(573.30,147.10)" font-size="2.90" text-anchor="end" textLength="32.30" lengthAdjust="spacingAndGlyphs" fill="#1a1a1a">EXTERIOR LIGHTS SYSTEM</text>
<text transform="translate(585.00,148.60)" font-size="2.38" text-anchor="start" textLength="9.80" lengthAdjust="spacingAndGlyphs" fill="#1a1a1a">WHT/BLK</text>
<text transform="translate(573.30,151.00)" font-size="2.90" text-anchor="end" textLength="25.30" lengthAdjust="spacingAndGlyphs" fill="#1a1a1a">HEADLIGHTS SYSTEM</text>
<text transform="translate(585.00,165.10)" font-size="2.38" text-anchor="start" textLength="9.80" lengthAdjust="spacingAndGlyphs" fill="#1a1a1a">RED/WHT</text>
<text transform="translate(573.30,167.50)" font-size="2.90" text-anchor="end" textLength="30.30" lengthAdjust="spacingAndGlyphs" fill="#1a1a1a">INTERIOR LIGHTS SYSTEM</text>
<text transform="translate(585.00,177.50)" font-size="2.38" text-anchor="start" textLength="9.80" lengthAdjust="spacingAndGlyphs" fill="#1a1a1a">GRY/RED</text>
<text transform="translate(573.30,179.90)" font-size="2.90" text-anchor="end" textLength="24.30" lengthAdjust="spacingAndGlyphs" fill="#1a1a1a">EXTERIOR LIGHTS &amp;</text>
<text transform="translate(573.30,182.90)" font-size="2.90" text-anchor="end" textLength="37.30" lengthAdjust="spacingAndGlyphs" fill="#1a1a1a">STARTING/CHARGING SYSTEMS</text>
<text transform="translate(585.00,185.90)" font-size="2.38" text-anchor="start" textLength="9.80" lengthAdjust="spacingAndGlyphs" fill="#1a1a1a">GRN/GRY</text>
<text transform="translate(585.00,189.50)" font-size="2.38" text-anchor="start" textLength="9.80" lengthAdjust="spacingAndGlyphs" fill="#1a1a1a">YEL/GRY</text>
<text transform="translate(585.00,221.90)" font-size="2.38" text-anchor="start" textLength="9.80" lengthAdjust="spacingAndGlyphs" fill="#1a1a1a">BRN/BLU</text>
<text transform="translate(573.30,224.30)" font-size="2.90" text-anchor="end" textLength="31.30" lengthAdjust="spacingAndGlyphs" fill="#1a1a1a">EXTERIOR LIGHTS SYSTEM</text>
<text transform="translate(585.00,249.90)" font-size="2.38" text-anchor="start" textLength="9.80" lengthAdjust="spacingAndGlyphs" fill="#1a1a1a">VIO/WHT</text>
<text transform="translate(573.30,252.30)" font-size="2.90" text-anchor="end" textLength="37.30" lengthAdjust="spacingAndGlyphs" fill="#1a1a1a">COMPUTER DATA LINES SYSTEM</text>
<text transform="translate(585.00,262.10)" font-size="2.38" text-anchor="start" textLength="9.80" lengthAdjust="spacingAndGlyphs" fill="#1a1a1a">BLU/RED</text>
<text transform="translate(573.30,264.50)" font-size="2.90" text-anchor="end" textLength="31.30" lengthAdjust="spacingAndGlyphs" fill="#1a1a1a">EXTERIOR LIGHTS SYSTEM</text>
<text transform="translate(585.00,287.10)" font-size="2.38" text-anchor="start" textLength="9.80" lengthAdjust="spacingAndGlyphs" fill="#1a1a1a">GRN/BLU</text>
<text transform="translate(573.30,289.50)" font-size="2.90" text-anchor="end" textLength="30.30" lengthAdjust="spacingAndGlyphs" fill="#1a1a1a">INTERIOR LIGHTS SYSTEM</text>
<text transform="translate(585.00,294.50)" font-size="2.38" text-anchor="start" textLength="9.80" lengthAdjust="spacingAndGlyphs" fill="#1a1a1a">RED/YEL</text>
<text transform="translate(573.30,296.90)" font-size="2.90" text-anchor="end" textLength="30.30" lengthAdjust="spacingAndGlyphs" fill="#1a1a1a">INTERIOR LIGHTS SYSTEM</text>
<text transform="translate(585.00,331.10)" font-size="2.38" text-anchor="start" textLength="9.80" lengthAdjust="spacingAndGlyphs" fill="#1a1a1a">WHT/BLK</text>
<text transform="translate(573.30,333.50)" font-size="2.90" text-anchor="end" textLength="32.30" lengthAdjust="spacingAndGlyphs" fill="#1a1a1a">EXTERIOR LIGHTS SYSTEM</text>
<text transform="translate(585.00,339.50)" font-size="2.38" text-anchor="start" textLength="9.80" lengthAdjust="spacingAndGlyphs" fill="#1a1a1a">VIO/WHT</text>
<text transform="translate(573.30,340.40)" font-size="2.90" text-anchor="end" textLength="40.30" lengthAdjust="spacingAndGlyphs" fill="#1a1a1a">EXTERIOR LIGHTS, HEADLIGHTS &amp;</text>
<text transform="translate(573.30,343.40)" font-size="2.90" text-anchor="end" textLength="32.30" lengthAdjust="spacingAndGlyphs" fill="#1a1a1a">INTERIOR LIGHTS SYSTEMS</text>
<text transform="translate(585.00,347.50)" font-size="2.38" text-anchor="start" textLength="9.80" lengthAdjust="spacingAndGlyphs" fill="#1a1a1a">VIO/WHT</text>
<text transform="translate(573.30,349.90)" font-size="2.90" text-anchor="end" textLength="20.30" lengthAdjust="spacingAndGlyphs" fill="#1a1a1a">SOUND SYSTEMS</text>
<text transform="translate(585.00,355.90)" font-size="2.38" text-anchor="start" textLength="9.80" lengthAdjust="spacingAndGlyphs" fill="#1a1a1a">VIO/WHT</text>
<text transform="translate(573.30,358.30)" font-size="2.90" text-anchor="end" textLength="30.30" lengthAdjust="spacingAndGlyphs" fill="#1a1a1a">INTERIOR LIGHTS SYSTEM</text>
<text transform="translate(573.30,187.30)" font-size="2.90" text-anchor="end" textLength="11.30" lengthAdjust="spacingAndGlyphs" fill="#1a1a1a">INTERIOR</text>
<text transform="translate(573.30,190.25)" font-size="2.90" text-anchor="end" textLength="7.30" lengthAdjust="spacingAndGlyphs" fill="#1a1a1a">LIGHTS</text>
<text transform="translate(573.30,193.20)" font-size="2.90" text-anchor="end" textLength="8.30" lengthAdjust="spacingAndGlyphs" fill="#1a1a1a">SYSTEM</text>
<text transform="translate(585.00,140.90)" font-size="2.38" text-anchor="start" textLength="9.80" lengthAdjust="spacingAndGlyphs" fill="#1a1a1a">RED/BLU</text>
<text transform="translate(585.00,168.50)" font-size="2.38" text-anchor="start" textLength="9.80" lengthAdjust="spacingAndGlyphs" fill="#1a1a1a">RED/BRN</text>
<text transform="translate(572.00,258.90)" font-size="2.78" text-anchor="start" textLength="30.00" lengthAdjust="spacingAndGlyphs" fill="#1a1a1a">(PINS 14 TO 56 NOT USED)</text>
</g>
</svg>
<div id="bar" class="abs"></div>
<svg class="abs" style="left:0;top:398px" width="600" height="13" viewBox="0 398 600 13">
<g fill="#b4b4b4">
<rect x="254.7" y="402.7" width="1.1" height="4.3"/><path d="M254.2,402.6 v4.5 l-3.4,-2.25z"/>
<path d="M265.4,402.6 v4.5 l-3.5,-2.25z"/>
</g>
<rect x="270.4" y="400.3" width="49.6" height="8" fill="#fff" stroke="#cfcfcf" stroke-width="0.5"/>
<text filter="url(#tb)" x="272.8" y="406.8" font-size="5.2" textLength="11.4" lengthAdjust="spacingAndGlyphs" fill="#222" style="stroke:#222;stroke-width:0.12px">1 / 4</text>
<path d="M315.8,404.2 h2.4 l-1.2,1.4z" fill="#333"/>
<g fill="#111">
<path d="M324.6,402.5 v4.5 l3.6,-2.25z"/>
<rect x="333.8" y="402.6" width="1.1" height="4.3"/><path d="M335.8,402.5 v4.5 l3.5,-2.25z"/>
</g>
<g fill="none" stroke="#4a6a70" stroke-width="0.6">
<rect x="344.3" y="401.6" width="4" height="3.6" fill="#fff"/><rect x="346.6" y="403.6" width="4" height="4" fill="#fff"/>
</g>
<g fill="none" stroke="#c6c6c6" stroke-width="0.6">
<rect x="356" y="401.6" width="4" height="3.6" fill="#fff"/><rect x="358.3" y="403.6" width="4" height="4" fill="#fff"/>
</g>
<rect x="592.2" y="400.4" width="5" height="7.6" fill="#f4f4f4"/>
<rect x="598.3" y="402.5" width="4" height="5.2" fill="#c4c4c4" stroke="#7a7a7a" stroke-width="0.7"/>
</svg>
</body></html>
